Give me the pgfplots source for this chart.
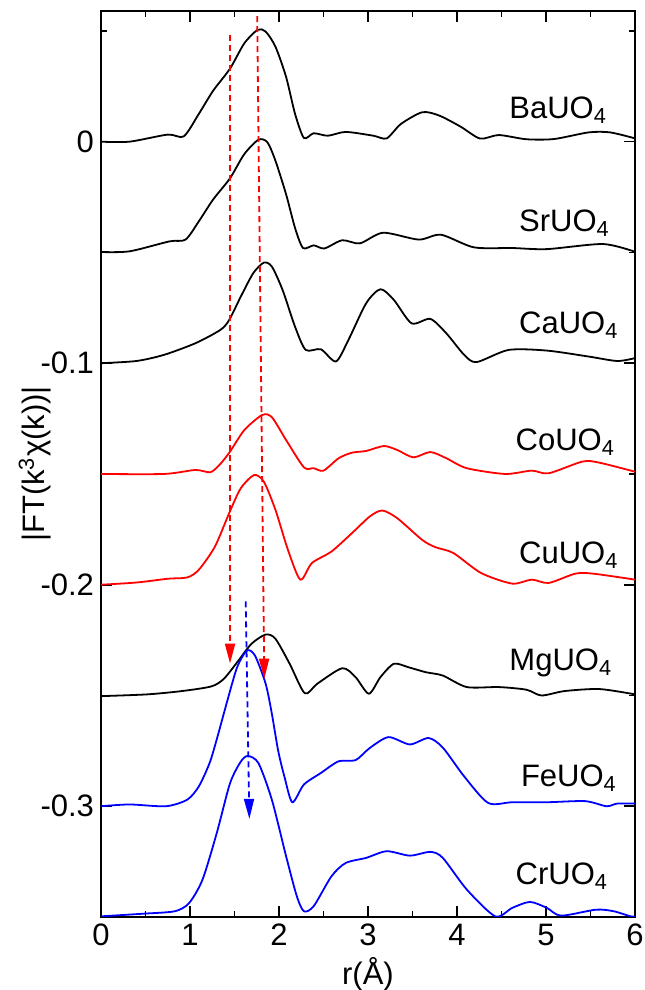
\documentclass[border=0pt]{standalone}
\usepackage{fontspec}
\setmainfont{Liberation Sans}
\usepackage{pgfplots}
\pgfplotsset{compat=1.18}
\usetikzlibrary{arrows.meta}

\begin{document}
\begin{tikzpicture}[font=\fontsize{15.5}{18.6}\selectfont]
\begin{axis}[
  scale only axis, width=267pt, height=453pt,
  xmin=0, xmax=6, ymin=-0.35, ymax=0.059,
  xtick={0,1,2,3,4,5,6}, minor xtick={0.5,1.5,2.5,3.5,4.5,5.5},
  ytick={-0.3,-0.2,-0.1,0}, minor ytick={-0.35,-0.25,-0.15,-0.05,0.05},
  tick align=inside, tick pos=both,
  major tick length=5.5pt, minor tick length=2.8pt,
  tick style={black, line width=0.8pt},
  axis line style={line width=0.8pt},
  ticklabel style={/pgf/number format/assume math mode=true},
  yticklabel style={/pgf/number format/fixed},
  xlabel={r(Å)}, ylabel={|FT(k\textsuperscript{3}χ(k))|},
  xlabel style={at={(axis description cs:0.5,-0.063)}, anchor=center},
  ylabel style={at={(axis description cs:-0.124,0.5)}, anchor=center},
  every axis plot/.append style={line width=0.9pt, smooth, tension=0.45, no marks},
]
% BaUO4
\addplot[black] coordinates {(0,0)(0.32,0.0)(0.75,0.0032)(0.93,0.0024)(1.10,0.0126)(1.26,0.023)(1.45,0.033)(1.61,0.0444)(1.76,0.0505)(1.85,0.0497)(1.96,0.0429)(2.08,0.0292)(2.18,0.0126)(2.28,0.0017)(2.39,0.0038)(2.55,0.0027)(2.75,0.0044)(3.06,0.0027)(3.21,0.0015)(3.37,0.008)(3.61,0.0133)(3.80,0.0118)(4.04,0.0068)(4.26,0.0014)(4.47,0.003)(4.78,0.0011)(5.09,0.0012)(5.48,0.0042)(5.72,0.0042)(6.0,0.0015)};
% SrUO4
\addplot[black] coordinates {(0,-0.0498)(0.32,-0.0495)(0.77,-0.045)(0.95,-0.0442)(1.10,-0.0359)(1.26,-0.0261)(1.45,-0.0165)(1.61,-0.0056)(1.77,0.0009)(1.87,-0.0003)(1.96,-0.0086)(2.08,-0.0238)(2.18,-0.0389)(2.27,-0.048)(2.39,-0.0468)(2.51,-0.0482)(2.71,-0.0445)(2.91,-0.0459)(3.17,-0.0411)(3.57,-0.0442)(3.82,-0.042)(4.19,-0.0477)(4.62,-0.048)(5.01,-0.0485)(5.64,-0.0462)(6.0,-0.0497)};
% CaUO4
\addplot[black] coordinates {(0,-0.1)(0.40,-0.099)(0.71,-0.0962)(1.06,-0.091)(1.34,-0.085)(1.44,-0.0805)(1.57,-0.070)(1.71,-0.0594)(1.83,-0.0546)(1.92,-0.0564)(2.04,-0.0669)(2.18,-0.0835)(2.30,-0.094)(2.47,-0.0937)(2.64,-0.0992)(2.78,-0.0895)(2.98,-0.0729)(3.14,-0.0666)(3.29,-0.0714)(3.49,-0.082)(3.70,-0.080)(3.88,-0.0865)(4.08,-0.0962)(4.22,-0.0995)(4.58,-0.094)(5.01,-0.0943)(5.48,-0.097)(5.80,-0.099)(6.0,-0.0977)};
% CoUO4
\addplot[red] coordinates {(0,-0.15)(0.71,-0.15)(1.06,-0.1482)(1.23,-0.1492)(1.34,-0.1455)(1.45,-0.1399)(1.61,-0.1302)(1.81,-0.1234)(1.92,-0.1244)(2.08,-0.1347)(2.28,-0.147)(2.39,-0.1474)(2.50,-0.1485)(2.67,-0.1429)(2.82,-0.1404)(2.98,-0.1396)(3.18,-0.1374)(3.33,-0.1392)(3.51,-0.1425)(3.70,-0.1401)(3.88,-0.1429)(4.11,-0.1474)(4.54,-0.15)(4.84,-0.1485)(5.03,-0.1497)(5.41,-0.1444)(5.60,-0.1449)(6.0,-0.149)};
% CuUO4
\addplot[red] coordinates {(0,-0.2)(0.40,-0.199)(0.75,-0.1973)(0.97,-0.1967)(1.10,-0.1932)(1.28,-0.1828)(1.44,-0.1677)(1.57,-0.1565)(1.72,-0.1505)(1.83,-0.1535)(1.96,-0.1662)(2.10,-0.1842)(2.24,-0.1977)(2.37,-0.1902)(2.59,-0.185)(2.82,-0.1767)(3.02,-0.1692)(3.16,-0.1665)(3.33,-0.170)(3.61,-0.1798)(3.76,-0.1831)(3.96,-0.1857)(4.27,-0.1947)(4.62,-0.1995)(4.84,-0.1977)(5.03,-0.1992)(5.33,-0.195)(5.53,-0.195)(6.0,-0.1977)};
% MgUO4
\addplot[black] coordinates {(0,-0.2503)(0.52,-0.2495)(0.91,-0.248)(1.24,-0.2459)(1.38,-0.2425)(1.53,-0.235)(1.69,-0.2267)(1.85,-0.2225)(1.96,-0.2244)(2.12,-0.2357)(2.29,-0.249)(2.43,-0.2447)(2.71,-0.2377)(2.86,-0.2417)(3.01,-0.2492)(3.14,-0.2417)(3.29,-0.2357)(3.45,-0.2372)(3.65,-0.2395)(3.84,-0.241)(4.11,-0.2462)(4.47,-0.2462)(4.78,-0.2474)(4.95,-0.25)(5.21,-0.248)(5.60,-0.2471)(6.0,-0.2495)};
% FeUO4
\addplot[blue] coordinates {(0,-0.3)(0.32,-0.2992)(0.73,-0.3)(0.97,-0.297)(1.10,-0.291)(1.22,-0.2805)(1.30,-0.2699)(1.42,-0.2523)(1.53,-0.2372)(1.64,-0.2297)(1.73,-0.232)(1.85,-0.2447)(1.92,-0.2583)(1.99,-0.2748)(2.06,-0.2865)(2.15,-0.2982)(2.28,-0.2902)(2.47,-0.285)(2.67,-0.2797)(2.86,-0.2792)(3.02,-0.2737)(3.23,-0.2688)(3.47,-0.2721)(3.68,-0.2692)(3.84,-0.2735)(4.08,-0.2865)(4.35,-0.2985)(4.62,-0.2982)(5.01,-0.2982)(5.44,-0.2977)(5.68,-0.3)(5.80,-0.2988)(6.0,-0.2988)};
% CrUO4
\addplot[blue] coordinates {(0,-0.3497)(0.48,-0.3485)(0.83,-0.3474)(0.99,-0.3437)(1.14,-0.3332)(1.30,-0.3122)(1.45,-0.2896)(1.57,-0.2799)(1.65,-0.2773)(1.77,-0.2806)(1.92,-0.2971)(2.08,-0.3226)(2.20,-0.3406)(2.28,-0.3474)(2.39,-0.3451)(2.59,-0.3316)(2.75,-0.3256)(2.98,-0.3233)(3.21,-0.3203)(3.47,-0.3223)(3.70,-0.3206)(3.84,-0.3233)(4.11,-0.3376)(4.43,-0.3497)(4.62,-0.3459)(4.82,-0.3432)(5.01,-0.3459)(5.17,-0.3494)(5.56,-0.3467)(5.76,-0.3474)(5.95,-0.3497)(6.0,-0.3497)};
% guide arrows
\addplot[red, sharp plot, line width=0.9pt, dash pattern=on 3pt off 2pt, -{Triangle[length=10pt,width=5pt]}] coordinates {(1.45,0.048)(1.45,-0.2356)};
\addplot[red, sharp plot, line width=0.9pt, dash pattern=on 3pt off 2pt, -{Triangle[length=10pt,width=5pt]}] coordinates {(1.755,0.0567)(1.835,-0.2424)};
\addplot[blue, sharp plot, line width=0.9pt, dash pattern=on 3pt off 2pt, -{Triangle[length=10pt,width=5pt]}] coordinates {(1.626,-0.2075)(1.667,-0.3057)};
% sample names
\node[anchor=base west] at (axis cs:4.51,0.0103) {BaUO\textsubscript{4}};
\node[anchor=base west] at (axis cs:4.62,-0.0404) {SrUO\textsubscript{4}};
\node[anchor=base west] at (axis cs:4.62,-0.0868) {CaUO\textsubscript{4}};
\node[anchor=base west] at (axis cs:4.58,-0.1392) {CoUO\textsubscript{4}};
\node[anchor=base west] at (axis cs:4.62,-0.1903) {CuUO\textsubscript{4}};
\node[anchor=base west] at (axis cs:4.51,-0.2387) {MgUO\textsubscript{4}};
\node[anchor=base west] at (axis cs:4.64,-0.2910) {FeUO\textsubscript{4}};
\node[anchor=base west] at (axis cs:4.58,-0.3353) {CrUO\textsubscript{4}};
\end{axis}
\pgfresetboundingbox
\path ([shift={(-50.5pt,-36.5pt)}]current axis.south west) rectangle ([shift={(5pt,5.5pt)}]current axis.north east);
\end{tikzpicture}
\end{document}
